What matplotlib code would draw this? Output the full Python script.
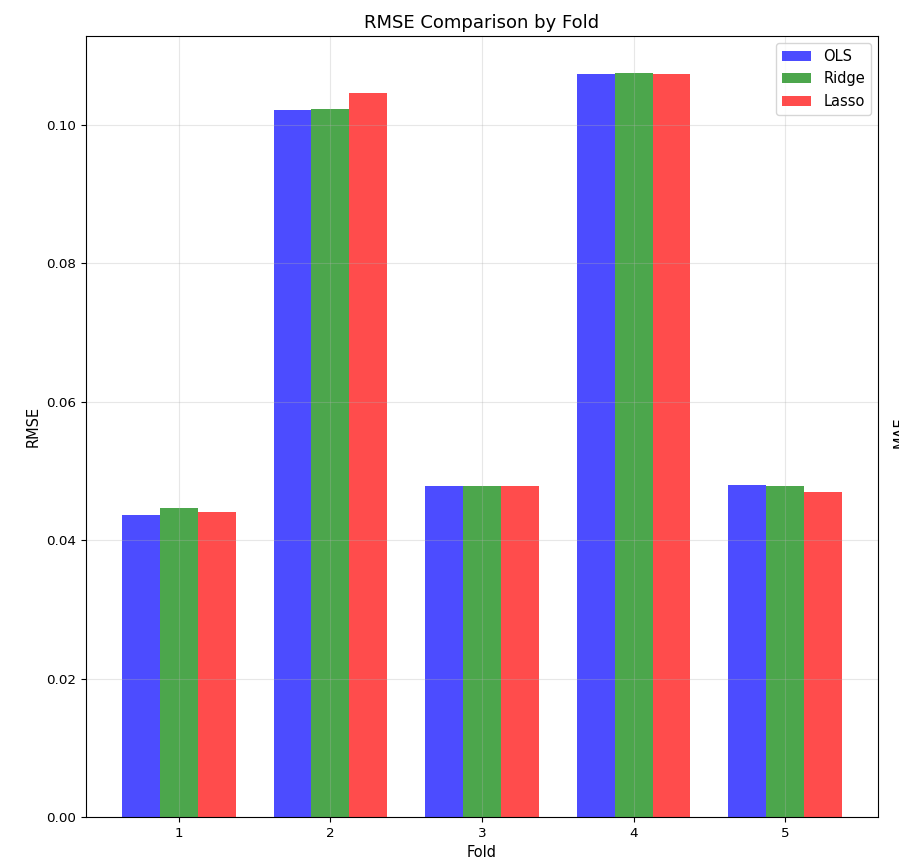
import matplotlib
matplotlib.use('Agg')
import matplotlib.pyplot as plt
import numpy as np

folds = [1, 2, 3, 4, 5]
ols_rmse = [0.0437, 0.1022, 0.0478, 0.1074, 0.0480]
ridge_rmse = [0.0447, 0.1023, 0.0478, 0.1075, 0.0479]
lasso_rmse = [0.0441, 0.1046, 0.0478, 0.1074, 0.0470]

fig = plt.figure(figsize=(8.99, 8.64), dpi=100)
ax = fig.add_axes([86 / 899, 1 - 817 / 864, (878 - 86) / 899, (817 - 36) / 864])

x = np.array(folds)
width = 0.25
ax.bar(x - width, ols_rmse, width, label='OLS', color='blue', alpha=0.7)
ax.bar(x, ridge_rmse, width, label='Ridge', color='green', alpha=0.7)
ax.bar(x + width, lasso_rmse, width, label='Lasso', color='red', alpha=0.7)

ax.set_xticks(x)
ax.set_xticklabels([str(f) for f in folds])
ax.tick_params(labelsize=9.7)
ax.set_xlabel('Fold', fontsize=10.5)
ax.set_ylabel('RMSE', fontsize=10.5)
ax.set_title('RMSE Comparison by Fold', fontsize=13)
ax.legend(fontsize=10.5)
ax.grid(True, alpha=0.3)

# label of the next panel, cut off at the edge
fig.text(893 / 899, 0.5, 'MAE', rotation=90, ha='left', va='center', fontsize=10.5)

plt.savefig('out.png', dpi=100)
